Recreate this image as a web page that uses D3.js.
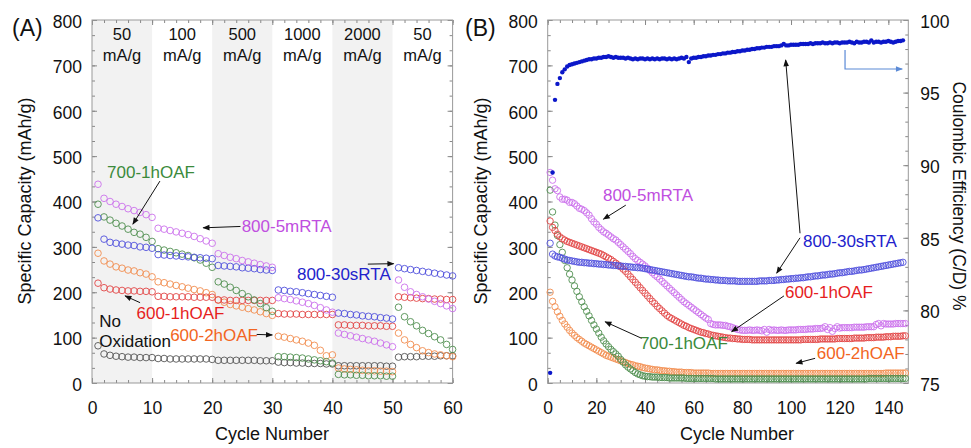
<!DOCTYPE html>
<html>
<head>
<meta charset="utf-8">
<script src="https://cdn.jsdelivr.net/npm/d3@7"></script>
<style>
  body { margin: 0; background: #fff; }
  text { font-family: "Liberation Sans", Arial, Helvetica, sans-serif; }
</style>
</head>
<body>
<svg id="chart" width="971" height="448"></svg>
<script>
// ---------- data: panel A (rate test, cycles 1-60) ----------
const rateLabels = ["50", "100", "500", "1000", "2000", "50"];
const rateBands = [[0, 10], [20, 30], [40, 50]];

const capA_800_5mRTA = [438,407,400,394,389,384,380,376,371,365, 341,339,336,333,330,327,323,318,313,308,
  285,281,277,274,270,267,264,261,258,255, 188,186,184,181,178,175,171,166,161,156,
  110,107,104,101,98,95,92,88,84,80, 227,211,201,195,190,185,180,175,170,164];
const capA_700_1hOAF = [394,366,359,352,346,339,332,328,321,312, 296,293,290,287,284,281,276,271,264,255,
  223,218,211,204,197,190,183,175,166,158, 58,58,57,56,55,53,51,49,47,44,
  19,18,18,17,17,16,16,16,15,15, 167,146,135,126,116,109,102,95,85,74];
const capA_800_30sRTA = [364,317,310,308,306,304,303,300,299,297, 283,282,281,280,279,278,277,276,275,274,
  259,258,257,256,254,253,252,250,249,248, 205,204,202,201,199,197,195,193,191,189,
  154,153,151,150,148,147,146,144,143,141, 254,252,250,248,246,244,242,240,238,236];
const capA_600_1hOAF = [220,210,207,205,204,203,203,202,202,201, 191,191,190,190,190,190,189,189,189,189,
  183,183,182,182,182,182,182,182,182,182, 153,152,152,152,151,151,151,151,151,151,
  128,128,127,127,127,126,126,126,125,125, 190,189,188,187,186,186,185,185,184,184];
const capA_600_2hOAF = [286,269,262,256,253,249,247,243,240,234, 223,221,218,215,212,209,206,203,199,195,
  183,178,173,170,167,164,161,157,153,149, 103,101,98,95,92,88,83,72,60,62,
  33,31,30,29,28,27,27,26,26,25, 110,95,85,78,71,67,64,62,60,58];
const capA_noOx = [82,64,61,59,58,57,57,56,56,56, 54,54,53,53,53,53,53,53,53,52,
  50,50,50,50,50,50,50,49,49,49, 46,45,45,44,44,43,43,43,42,42,
  38,38,38,38,38,38,38,38,37,37, 57,58,58,58,59,59,59,60,60,60];

// ---------- data: panel B (long cycling) ----------
const capB_800_5mRTA = [464,447,428,424,410,405,405,403,398,398, 395,390,385,383,380,375,370,362,355,350,
  343,338,333,330,326,322,318,315,310,305, 300,295,290,285,279,274,270,266,262,258,
  253,248,243,238,234,229,224,219,214,209, 204,199,194,189,184,179,175,171,167,163,
  159,155,151,147,143,140,131,129,128,128, 128,127,127,125,124,122,120,118,117,116,
  116,116,117,116,116,117,116,115,118,112, 118,116,117,116,116,117,116,116,117,117,
  117,117,118,118,118,118,119,119,119,120, 120,120,121,124,118,122,114,120,124,121,
  122,122,122,122,122,123,123,123,123,123, 124,124,124,124,129,131,126,131,130,130,
  130,130,131,131,131,131,131];
const capB_800_30sRTA = [308,284,280,278,277,275,273,271,270,269, 268,267,266,266,265,265,264,264,263,263,
  262,262,261,261,260,260,259,259,258,258, 257,257,256,256,255,255,254,254,253,252,
  251,250,249,248,247,246,245,244,243,242, 241,240,239,238,237,236,235,234,234,233,
  232,231,231,230,229,229,228,228,227,227, 226,226,226,225,225,225,225,224,224,224,
  224,224,224,224,224,224,225,225,225,225, 226,226,226,227,227,228,228,229,229,230,
  230,231,231,232,232,233,234,234,235,236, 236,237,238,238,239,240,240,241,242,243,
  243,244,245,246,246,247,248,249,249,250, 251,252,253,254,255,256,257,258,259,260,
  261,262,263,264,265,266];
const capB_600_1hOAF = [357,343,336,328,322,318,315,312,310,308, 306,304,302,300,298,296,294,292,290,288,
  286,284,281,278,275,272,268,264,260,256, 251,246,240,234,228,222,216,210,204,198,
  192,186,180,175,169,164,159,154,149,145, 142,139,136,133,130,127,125,122,120,118,
  116,114,112,111,109,108,106,105,104,103, 102,101,100,99,99,98,98,97,97,96,
  96,96,96,95,95,95,95,95,95,95, 95,95,95,95,95,95,95,95,95,95,
  95,95,95,95,96,96,96,96,96,96, 96,97,97,97,97,97,97,97,98,98,
  98,98,98,98,98,99,99,99,99,99, 100,100,100,100,101,101,101,101,102,102,
  102,103,103,103,103,104,104];
const capB_700_1hOAF = [425,377,348,325,305,288,270,254,240,227, 214,202,190,179,168,158,148,138,128,119,
  110,101,93,86,80,74,69,64,59,52, 46,40,35,31,27,23,20,18,16,15,
  14,14,13,13,13,12,12,12,12,11, 11,11,11,11,11,11,10,10,10,10,
  10,10,10,10,10,10,10,10,9,9, 9,9,9,9,9,9,9,9,9,9,
  9,9,9,9,9,9,9,9,9,9, 9,9,9,9,9,9,9,9,9,9,
  9,9,9,9,9,9,9,9,9,9, 9,9,9,9,9,9,9,9,9,9,
  9,9,9,9,9,9,9,9,9,9, 9,10,10,10,10,10,10,10,10,10,
  10,10,10,10,10,10,10];
const capB_600_2hOAF = [200,180,168,157,147,138,130,123,116,110, 105,100,96,92,88,85,82,79,76,73,
  70,67,64,61,59,57,55,53,51,49, 47,45,43,41,40,38,37,36,34,33,
  32,31,30,29,29,28,27,27,26,26, 25,25,24,24,24,23,23,23,23,22,
  22,22,22,22,22,22,21,21,21,21, 21,21,21,21,21,21,21,21,21,21,
  21,21,21,21,21,21,21,21,21,21, 21,21,21,21,21,21,21,21,21,21,
  21,21,21,21,21,21,21,21,21,21, 21,21,21,21,21,21,21,21,21,21,
  21,21,21,21,21,21,21,21,21,21, 21,21,21,21,21,21,21,21,22,22,
  22,22,22,22,22,22,22];
const ceB_800_30sRTA = [75.7,89.5,94.5,95.6,96.0,96.4,96.6,96.8,96.9,96.95,
  97.0,97.05,97.1,97.15,97.2,97.25,97.3,97.3,97.35,97.35,
  97.4,97.4,97.45,97.45,97.5,97.45,97.4,97.45,97.4,97.4,
  97.4,97.35,97.4,97.35,97.3,97.35,97.3,97.35,97.35,97.3,
  97.35,97.3,97.35,97.3,97.35,97.3,97.35,97.35,97.3,97.35,
  97.3,97.35,97.3,97.35,97.4,97.35,97.45,97.1,97.35,97.4,
  97.4,97.45,97.45,97.5,97.5,97.55,97.55,97.6,97.6,97.65,
  97.65,97.7,97.7,97.75,97.75,97.8,97.8,97.85,97.85,97.9,
  97.9,97.95,97.95,98.0,98.0,98.05,98.05,98.1,98.1,98.15,
  98.15,98.15,98.2,98.2,98.2,98.25,98.35,98.25,98.25,98.3,
  98.3,98.3,98.3,98.35,98.35,98.35,98.35,98.4,98.35,98.4,
  98.4,98.4,98.45,98.4,98.4,98.45,98.4,98.45,98.45,98.4,
  98.45,98.45,98.45,98.5,98.45,98.4,98.5,98.45,98.45,98.5,
  98.5,98.45,98.6,98.45,98.5,98.5,98.45,98.5,98.5,98.55,
  98.5,98.45,98.5,98.55,98.55,98.6];

// ---------- colours ----------
const col = {
  violet: "#cc72ec", violetText: "#c04fe0",
  green: "#4f8f4f", greenText: "#3b8a3b",
  blue: "#5050dc", blueText: "#2222cc",
  red: "#e24646", redText: "#e61e1e",
  orange: "#f28c4e", orangeText: "#f26522",
  gray: "#555555", ce: "#0b17c9"
};

const svg = d3.select("#chart");
const defs = svg.append("defs");

function addMarker(id, color) {
  defs.append("marker")
    .attr("id", id)
    .attr("viewBox", "0 0 10 10")
    .attr("refX", 9).attr("refY", 5)
    .attr("markerWidth", 8).attr("markerHeight", 7)
    .attr("markerUnits", "userSpaceOnUse")
    .attr("orient", "auto")
    .append("path").attr("d", "M0,1 L10,5 L0,9 z").attr("fill", color);
}
addMarker("ah", "#111");
addMarker("ahBlue", "#5b8ad6");

// inward ticks on all four sides, grey frame
function drawAxes(g, x, y, opt) {
  const [x0, x1] = x.range();
  const [y0, y1] = y.range();
  const style = (sel) => {
    sel.select(".domain").remove();
    sel.selectAll("line").attr("stroke", "#888");
    sel.selectAll("text").attr("fill", "#111").style("font-size", "17.5px")
      .style("font-family", '"Liberation Sans", Arial, sans-serif');
  };
  const add = (axis, tr) => g.append("g").attr("transform", tr).call(axis).call(style);

  add(d3.axisBottom(x).tickValues(opt.xMinor).tickSize(-3).tickFormat(""), `translate(0,${y0})`);
  add(d3.axisBottom(x).tickValues(opt.xMajor).tickSize(-5).tickPadding(18.5).tickFormat(d3.format("d")), `translate(0,${y0})`);
  add(d3.axisTop(x).tickValues(opt.xMinor).tickSize(-3).tickFormat(""), `translate(0,${y1})`);
  add(d3.axisTop(x).tickValues(opt.xMajor).tickSize(-5).tickFormat(""), `translate(0,${y1})`);

  add(d3.axisLeft(y).tickValues(opt.yMinor).tickSize(-3).tickFormat(""), `translate(${x0},0)`);
  const yl = add(d3.axisLeft(y).tickValues(opt.yMajor).tickSize(-5).tickPadding(10).tickFormat(d3.format("d")), `translate(${x0},0)`);
  yl.selectAll("text").attr("dy", "0.42em");

  const yr = opt.yRight || y;
  add(d3.axisRight(yr).tickValues(opt.rMinor).tickSize(-3).tickFormat(""), `translate(${x1},0)`);
  const rr = add(d3.axisRight(yr).tickValues(opt.rMajor).tickSize(-5).tickPadding(12)
    .tickFormat(opt.yRight ? d3.format("d") : ""), `translate(${x1},0)`);
  rr.selectAll("text").attr("dy", "0.42em");

  g.append("rect")
    .attr("x", x0).attr("y", y1)
    .attr("width", x1 - x0).attr("height", y0 - y1)
    .attr("fill", "none").attr("stroke", "#999").attr("stroke-width", 1);
}

function drawSeries(g, x, y, values, color, r) {
  g.append("g").selectAll("circle")
    .data(values)
    .join("circle")
    .attr("cx", (d, i) => x(i + 1))
    .attr("cy", d => y(d))
    .attr("r", r)
    .attr("fill", "none")
    .attr("stroke", color)
    .attr("stroke-width", 0.9);
}

function note(g, x, y, txt, cx, cy, color) {
  g.append("text").attr("x", x(cx)).attr("y", y(cy))
    .attr("fill", color).style("font-size", "17px").text(txt);
}

function arrow(g, x, y, p, q, marker = "ah", color = "#111") {
  g.append("line")
    .attr("x1", x(p[0])).attr("y1", y(p[1]))
    .attr("x2", x(q[0])).attr("y2", y(q[1]))
    .attr("stroke", color).attr("stroke-width", 1)
    .attr("marker-end", `url(#${marker})`);
}

// ================= Panel A =================
const gA = svg.append("g");
const xA = d3.scaleLinear().domain([0, 60]).range([92, 452.6]);
const yA = d3.scaleLinear().domain([0, 800]).range([383, 20]);

gA.selectAll(".band").data(rateBands).join("rect")
  .attr("x", d => xA(d[0])).attr("y", yA(800))
  .attr("width", d => xA(d[1]) - xA(d[0])).attr("height", yA(0) - yA(800))
  .attr("fill", "#f2f2f2");

rateLabels.forEach((lab, i) => {
  const t = gA.append("text").attr("text-anchor", "middle").style("font-size", "16.5px").attr("fill", "#111");
  t.append("tspan").attr("x", xA(i * 10 + 5)).attr("y", 40).text(lab);
  t.append("tspan").attr("x", xA(i * 10 + 5)).attr("y", 61).text("mA/g");
});

drawAxes(gA, xA, yA, {
  xMajor: d3.range(0, 61, 10), xMinor: d3.range(0, 61, 2),
  yMajor: d3.range(0, 801, 100), yMinor: d3.range(0, 801, 100 / 3),
  rMajor: d3.range(0, 801, 100), rMinor: d3.range(0, 801, 100 / 3)
});

drawSeries(gA, xA, yA, capA_noOx, col.gray, 3.3);
drawSeries(gA, xA, yA, capA_600_2hOAF, col.orange, 3.3);
drawSeries(gA, xA, yA, capA_600_1hOAF, col.red, 3.3);
drawSeries(gA, xA, yA, capA_700_1hOAF, col.green, 3.3);
drawSeries(gA, xA, yA, capA_800_30sRTA, col.blue, 3.3);
drawSeries(gA, xA, yA, capA_800_5mRTA, col.violet, 3.3);

note(gA, xA, yA, "700-1hOAF", 2.5, 452, col.greenText);
arrow(gA, xA, yA, [11.3, 445], [6.8, 350]);
note(gA, xA, yA, "800-5mRTA", 24.9, 332, col.violetText);
arrow(gA, xA, yA, [24.7, 345], [18.5, 342]);
note(gA, xA, yA, "800-30sRTA", 34.1, 227, col.blueText);
arrow(gA, xA, yA, [45.9, 262], [50.2, 263]);
note(gA, xA, yA, "600-1hOAF", 7.4, 141, col.redText);
arrow(gA, xA, yA, [8.0, 177], [5.5, 192]);
note(gA, xA, yA, "600-2hOAF", 13, 92.5, col.orangeText);
arrow(gA, xA, yA, [27.4, 107], [30.0, 106]);
note(gA, xA, yA, "No", 1.2, 123, "#111");
note(gA, xA, yA, "Oxidation", 1.2, 79, "#111");

gA.append("text").attr("x", 12).attr("y", 35.5).style("font-size", "23px").attr("fill", "#111").text("(A)");
gA.append("text").attr("transform", "translate(31,201) rotate(-90)").attr("text-anchor", "middle")
  .style("font-size", "18px").attr("fill", "#111").text("Specific Capacity (mAh/g)");
gA.append("text").attr("x", 272).attr("y", 440).attr("text-anchor", "middle")
  .style("font-size", "18px").attr("fill", "#111").text("Cycle Number");

// ================= Panel B =================
const gB = svg.append("g");
const xB = d3.scaleLinear().domain([0, 148.2]).range([547.7, 908.3]);
const yB = d3.scaleLinear().domain([0, 800]).range([383, 20]);
const yCE = d3.scaleLinear().domain([75, 100]).range([383, 20]);

drawAxes(gB, xB, yB, {
  xMajor: d3.range(0, 141, 20), xMinor: d3.range(0, 146, 5),
  yMajor: d3.range(0, 801, 100), yMinor: d3.range(0, 801, 100 / 3),
  yRight: yCE, rMajor: d3.range(75, 101, 5), rMinor: d3.range(75, 101, 1)
});

drawSeries(gB, xB, yB, capB_600_2hOAF, col.orange, 3.2);
drawSeries(gB, xB, yB, capB_700_1hOAF, col.green, 3.2);
drawSeries(gB, xB, yB, capB_600_1hOAF, col.red, 3.2);
drawSeries(gB, xB, yB, capB_800_5mRTA, col.violet, 3.2);
drawSeries(gB, xB, yB, capB_800_30sRTA, col.blue, 3.2);

gB.append("g").selectAll("circle")
  .data(ceB_800_30sRTA)
  .join("circle")
  .attr("cx", (d, i) => xB(i + 1))
  .attr("cy", d => yCE(d))
  .attr("r", 2.2)
  .attr("fill", col.ce);

note(gB, xB, yB, "800-5mRTA", 22.7, 401, col.violetText);
arrow(gB, xB, yB, [32.1, 392], [22.9, 361]);
note(gB, xB, yB, "800-30sRTA", 104.9, 300, col.blueText);
arrow(gB, xB, yB, [103.7, 330], [97.8, 712]);
arrow(gB, xB, yB, [103.7, 320], [94.1, 242]);
note(gB, xB, yB, "600-1hOAF", 97.5, 188, col.redText);
arrow(gB, xB, yB, [97.1, 192], [75.6, 113]);
note(gB, xB, yB, "600-2hOAF", 110.6, 53, col.orangeText);
arrow(gB, xB, yB, [109.9, 54.4], [102.1, 43.4]);
note(gB, xB, yB, "700-1hOAF", 37.9, 74, col.greenText);
arrow(gB, xB, yB, [38.6, 98.5], [23.6, 135]);

// bracket arrow pointing to the right axis
gB.append("path")
  .attr("d", `M${xB(122.2)},${yB(734)} L${xB(122.2)},${yB(692)} L${xB(145.7)},${yB(692)}`)
  .attr("fill", "none").attr("stroke", "#5b8ad6").attr("stroke-width", 1.2)
  .attr("marker-end", "url(#ahBlue)");

gB.append("text").attr("x", 465).attr("y", 35.5).style("font-size", "23px").attr("fill", "#111").text("(B)");
gB.append("text").attr("transform", "translate(487,201) rotate(-90)").attr("text-anchor", "middle")
  .style("font-size", "18px").attr("fill", "#111").text("Specific Capacity (mAh/g)");
gB.append("text").attr("transform", "translate(953,196) rotate(90)").attr("text-anchor", "middle")
  .style("font-size", "17.5px").attr("fill", "#111").text("Coulombic Efficiency (C/D) %");
gB.append("text").attr("x", 737).attr("y", 440).attr("text-anchor", "middle")
  .style("font-size", "18px").attr("fill", "#111").text("Cycle Number");
</script>
</body>
</html>
